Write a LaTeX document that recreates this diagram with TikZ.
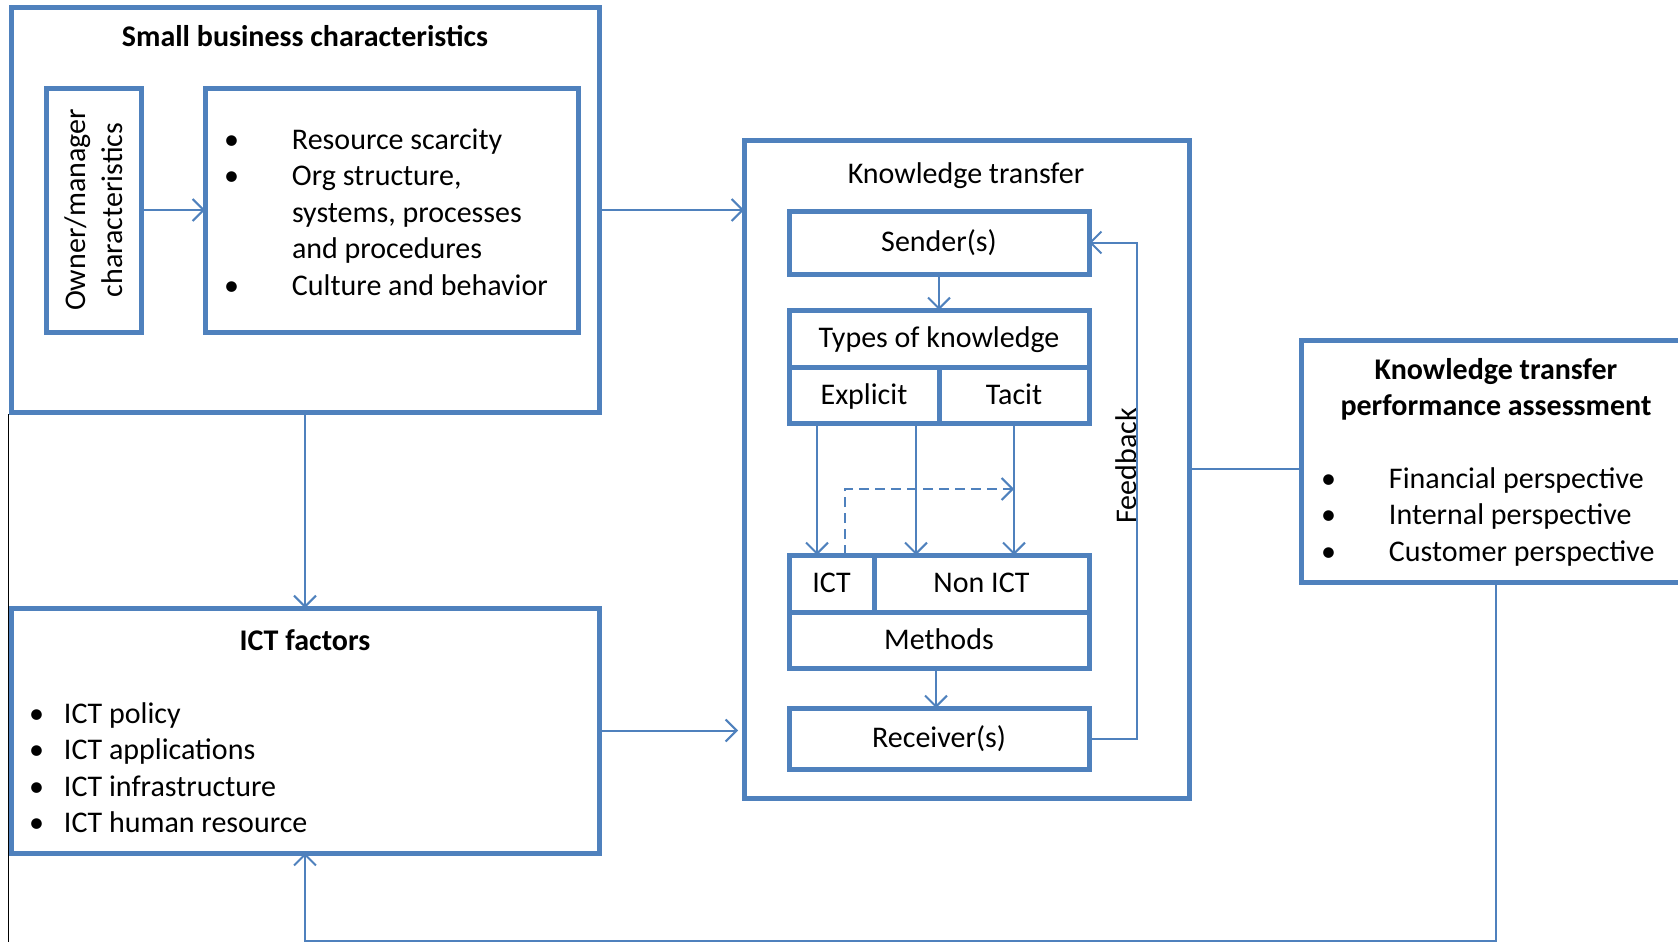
\documentclass[tikz,border=0pt]{standalone}
\usepackage{fontspec}
\setmainfont{Carlito}
\usetikzlibrary{arrows.meta}
\definecolor{kblue}{HTML}{4F81BD}
\tikzset{
  txt/.style={font=\fontsize{30}{36.5}\selectfont, inner sep=0pt, outer sep=0pt, text=black},
  ttl/.style={txt, font=\fontsize{30}{36.5}\selectfont\bfseries},
  cell/.style={txt, text height=22pt, text depth=4pt},
  frame/.style={cell, draw=kblue, line width=5pt, rectangle},
  link/.style={draw=kblue, line width=2pt},
  arr/.style={link, -{Straight Barb[length=11pt,width=22pt,line width=2pt]}},
}
\begin{document}
\begin{tikzpicture}[x=1pt, y=-1pt]
\useasboundingbox (0,0) rectangle (1678,942);

% --- Small business characteristics ---
\node[frame, minimum width=588pt, minimum height=404pt] (sbc) at (305,210) {};
\node[ttl] (sbcT) at (305,36) {Small business characteristics};
\node[frame, minimum width=95pt, minimum height=244pt] (own) at (93.5,210) {};
\node[txt, rotate=90, align=center] (ownT) at (93.5,210) {Owner/manager\\characteristics};
\node[frame, minimum width=373pt, minimum height=244pt] (bul) at (391.5,210) {};
\node[txt, anchor=base west] (bulT) at (224,149) {%
  \begin{tabular}[t]{@{}p{68pt}@{}l@{}}
  \textbullet & Resource scarcity\\
  \textbullet & Org structure,\\
              & systems, processes\\
              & and procedures\\
  \textbullet & Culture and behavior
  \end{tabular}};

% --- ICT factors ---
\node[frame, minimum width=588pt, minimum height=245pt] (ict) at (305,730.5) {};
\node[ttl] (ictT) at (305,640) {ICT factors};
\node[txt, anchor=base west] (ictL) at (29,723) {%
  \begin{tabular}[t]{@{}p{35pt}@{}l@{}}
  \textbullet & ICT policy\\
  \textbullet & ICT applications\\
  \textbullet & ICT infrastructure\\
  \textbullet & ICT human resource
  \end{tabular}};

% --- Knowledge transfer ---
\node[frame, minimum width=445pt, minimum height=658pt] (kt) at (966.5,469) {};
\node[cell] (ktT) at (966,174) {Knowledge transfer};
\node[frame, minimum width=300pt, minimum height=63pt] (send) at (939,242.5) {Sender(s)};
\node[frame, minimum width=300pt, minimum height=57pt] (types) at (939,338.5) {Types of knowledge};
\node[frame, minimum width=150pt, minimum height=56pt] (expl) at (864,395) {Explicit};
\node[frame, minimum width=150pt, minimum height=56pt] (tac) at (1014,395) {Tacit};
\node[frame, minimum width=85pt, minimum height=57pt] (mict) at (831.5,583.5) {ICT};
\node[frame, minimum width=215pt, minimum height=57pt] (mnon) at (981.5,583.5) {Non ICT};
\node[frame, minimum width=300pt, minimum height=56pt] (meth) at (939,640) {Methods};
\node[frame, minimum width=300pt, minimum height=61pt] (recv) at (939,738.5) {Receiver(s)};
\node[txt, rotate=90, anchor=base] (fbT) at (1136,466) {Feedback};

% --- Performance assessment ---
\node[frame, minimum width=390pt, minimum height=242pt] (ktpa) at (1496,461) {};
\node[ttl, align=center] (ktpaT) at (1496,389.5) {Knowledge transfer\\performance assessment};
\node[txt, anchor=base west] (ktpaL) at (1321,488) {%
  \begin{tabular}[t]{@{}p{68pt}@{}l@{}}
  \textbullet & Financial perspective\\
  \textbullet & Internal perspective\\
  \textbullet & Customer perspective
  \end{tabular}};

% --- connectors ---
\draw[arr] (own.east) -- (bul.west);
\draw[arr] (sbc.east) -- (kt.west |- sbc.east);
\draw[arr] (ict.east) -- ([xshift=-6pt]kt.west |- ict.east);
\draw[arr] (sbc.south) -- (ict.north);
\draw[link] (kt.east) -- (ktpa.west |- kt.east);
\coordinate (bot) at (0,941);
\draw[arr] (ktpa.south) -- (ktpa.south |- bot) -| (ict.south);

\draw[arr] (send.south) -- (types.north);
\draw[arr] ([xshift=-3pt]meth.south) -- ([xshift=-3pt]recv.north);
\path ([xshift=28pt]expl.south west) coordinate (e1)
      ([xshift=-23pt]expl.south east) coordinate (e2)
      (tac.south) coordinate (t1)
      ([xshift=13.5pt]mict.north) coordinate (d0);
\draw[arr] (e1) -- (e1 |- mict.north);
\draw[arr] (e2) -- (e2 |- mnon.north);
\draw[arr] (t1) -- (t1 |- mnon.north);
\coordinate (dmid) at (0,489);
\draw[arr, dash pattern=on 10pt off 6pt] (d0) -- (d0 |- dmid) -- (t1 |- dmid);
\draw[arr] (recv.east) -- ++(48,0) |- (send.east);

% thin rule along the left edge
\draw[black, line width=1.3pt] (8.5,414) -- (8.5,942);
\end{tikzpicture}
\end{document}
